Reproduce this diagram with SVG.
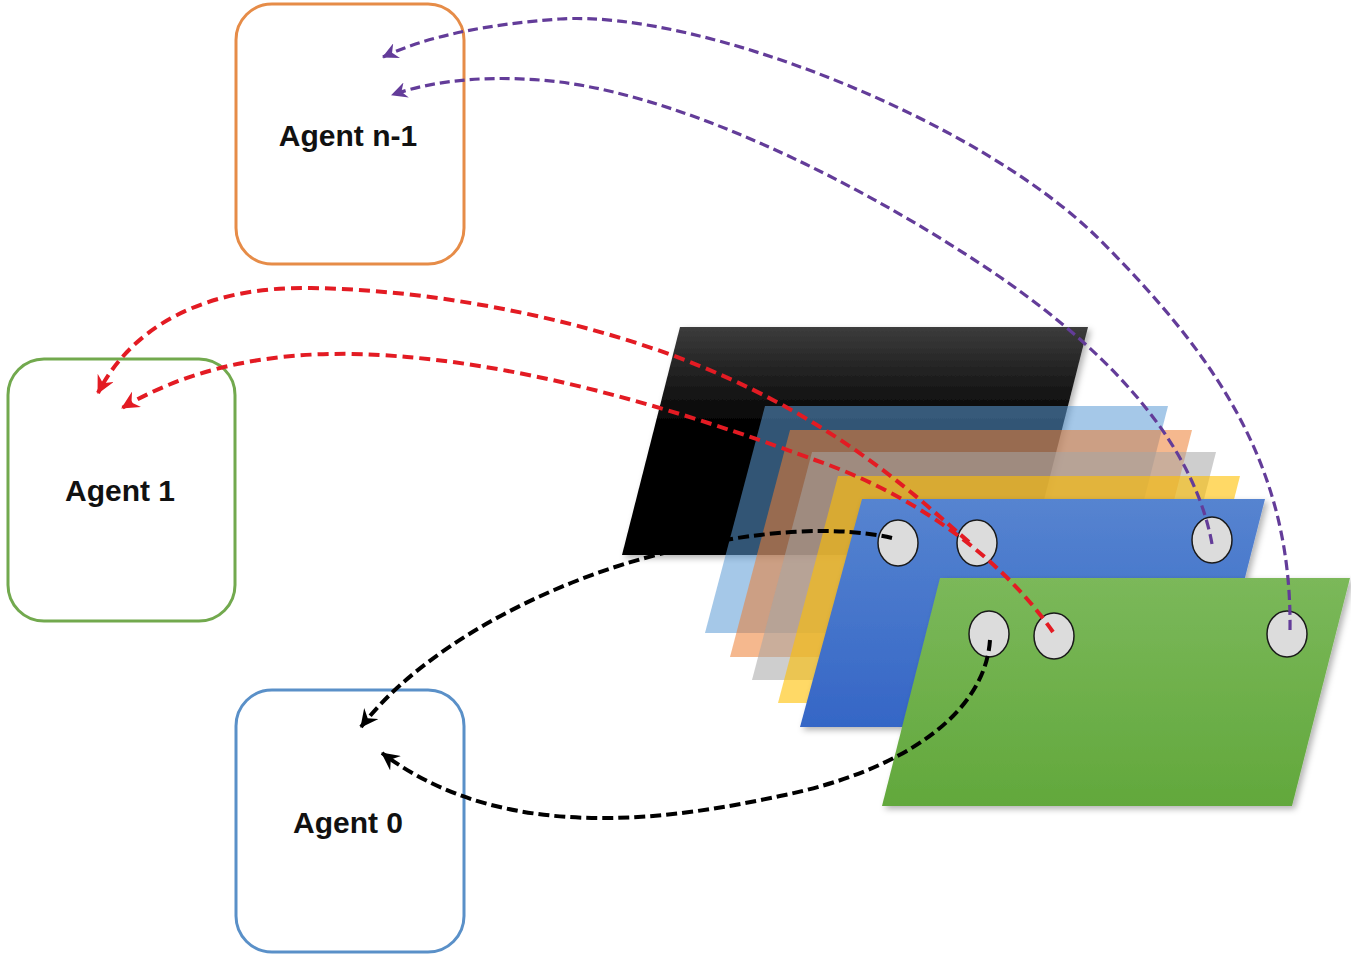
<svg xmlns="http://www.w3.org/2000/svg" width="1351" height="958" viewBox="0 0 1351 958">
<defs>
<style>
.box{fill:#ffffff;stroke-width:3}
.lbl{font-family:"Liberation Sans",Arial,sans-serif;font-weight:bold;font-size:30px;fill:#111;text-anchor:middle}
.dot{fill:#dcdcdc;stroke:#1a1a1a;stroke-width:1.5}
.con{fill:none}
.pur{stroke:#633c99;stroke-width:3.2;stroke-dasharray:10 5}
.red{stroke:#e31b23;stroke-width:4;stroke-dasharray:11 6}
.blk{stroke:#000;stroke-width:4;stroke-dasharray:11 5}
</style>
<linearGradient id="gBlack" x1="0" y1="0" x2="0" y2="1">
<stop offset="0" stop-color="#3c3c3c"/><stop offset="0.45" stop-color="#000"/><stop offset="1" stop-color="#000"/>
</linearGradient>
<linearGradient id="gBlue" x1="0" y1="0" x2="0" y2="1">
<stop offset="0" stop-color="#5684d0"/><stop offset="1" stop-color="#3566c6"/>
</linearGradient>
<linearGradient id="gGreen" x1="0" y1="0" x2="0" y2="1">
<stop offset="0" stop-color="#7bb85a"/><stop offset="1" stop-color="#62a83c"/>
</linearGradient>
<filter id="sh" x="-10%" y="-10%" width="130%" height="130%">
<feDropShadow dx="3" dy="3" stdDeviation="3" flood-color="#000" flood-opacity="0.3"/>
</filter>
<marker id="aPur" markerUnits="userSpaceOnUse" markerWidth="18" markerHeight="16" refX="15" refY="8" orient="auto" viewBox="0 0 18 16">
<path d="M0,0 L16,8 L0,16 L5,8 Z" fill="#633c99"/>
</marker>
<marker id="aRed" markerUnits="userSpaceOnUse" markerWidth="20" markerHeight="18" refX="17" refY="9" orient="auto" viewBox="0 0 20 18">
<path d="M0,0 L18,9 L0,18 L6,9 Z" fill="#e31b23"/>
</marker>
<marker id="aBlk" markerUnits="userSpaceOnUse" markerWidth="20" markerHeight="18" refX="17" refY="9" orient="auto" viewBox="0 0 20 18">
<path d="M0,0 L18,9 L0,18 L6,9 Z" fill="#000"/>
</marker>
</defs>
<rect width="1351" height="958" fill="#ffffff"/>

<g id="agent-n-1">
<rect class="box" x="236" y="4" width="228" height="260" rx="36" stroke="#e68c48"/>
<text class="lbl" x="348" y="146">Agent n-1</text>
</g>
<g id="agent-1">
<rect class="box" x="8" y="359" width="227" height="262" rx="36" stroke="#72a94e"/>
<text class="lbl" x="120" y="501">Agent 1</text>
</g>
<g id="agent-0">
<rect class="box" x="236" y="690" width="228" height="262" rx="36" stroke="#5a90c8"/>
<text class="lbl" x="348" y="833">Agent 0</text>
</g>

<g id="layers">
<polygon id="layer-black" points="680,327 1088,327 1030,555 622,555" fill="url(#gBlack)" filter="url(#sh)"/>
<polygon id="layer-lightblue" points="765,406 1168,406 1110,633 705,633" fill="#5b9bd5" fill-opacity="0.55"/>
<polygon id="layer-orange" points="790,430 1192,430 1134,657 730,657" fill="#ed7d31" fill-opacity="0.55"/>
<polygon id="layer-gray" points="812,452 1216,452 1158,680 752,680" fill="#a5a5a5" fill-opacity="0.55"/>
<polygon id="layer-yellow" points="838,476 1240,476 1182,703 778,703" fill="#ffc000" fill-opacity="0.6"/>
<polygon id="layer-blue" points="862,499 1265,499 1207,727 800,727" fill="url(#gBlue)" filter="url(#sh)"/>
<polygon id="layer-green" points="940,578 1350,578 1292,806 882,806" fill="url(#gGreen)" filter="url(#sh)"/>
</g>

<g id="points">
<ellipse class="dot" cx="898" cy="543" rx="20" ry="23"/>
<ellipse class="dot" cx="977" cy="543" rx="20" ry="23"/>
<ellipse class="dot" cx="1212" cy="540" rx="20" ry="23"/>
<ellipse class="dot" cx="989" cy="634" rx="20" ry="23"/>
<ellipse class="dot" cx="1054" cy="636" rx="20" ry="23"/>
<ellipse class="dot" cx="1287" cy="634" rx="20" ry="23"/>
</g>

<g id="connectors">
<path class="con pur" d="M1290,630 C1292,470 1220,360 1100,240 C980,120 700,10 560,19 C490,24 430,35 383,57" marker-end="url(#aPur)"/>
<path class="con pur" d="M1212,544 C1195,450 1120,360 1000,277 C880,195 700,100 560,82 C500,75 440,78 392,95" marker-end="url(#aPur)"/>
<path class="con red" d="M969,542 C925,505 845,425 700,366 C600,325 450,290 311,288 C200,286 130,330 98,393" marker-end="url(#aRed)"/>
<path class="con red" d="M1053,632 C1010,570 930,500 815,460 C720,425 560,370 407,357 C330,350 220,350 122,408" marker-end="url(#aRed)"/>
<path class="con blk" d="M892,538 C840,526 760,528 656,555 C540,585 420,650 361,727" marker-end="url(#aBlk)"/>
<path class="con blk" d="M990,640 C985,715 900,772 780,796 C660,822 500,842 382,753" marker-end="url(#aBlk)"/>
</g>
</svg>
